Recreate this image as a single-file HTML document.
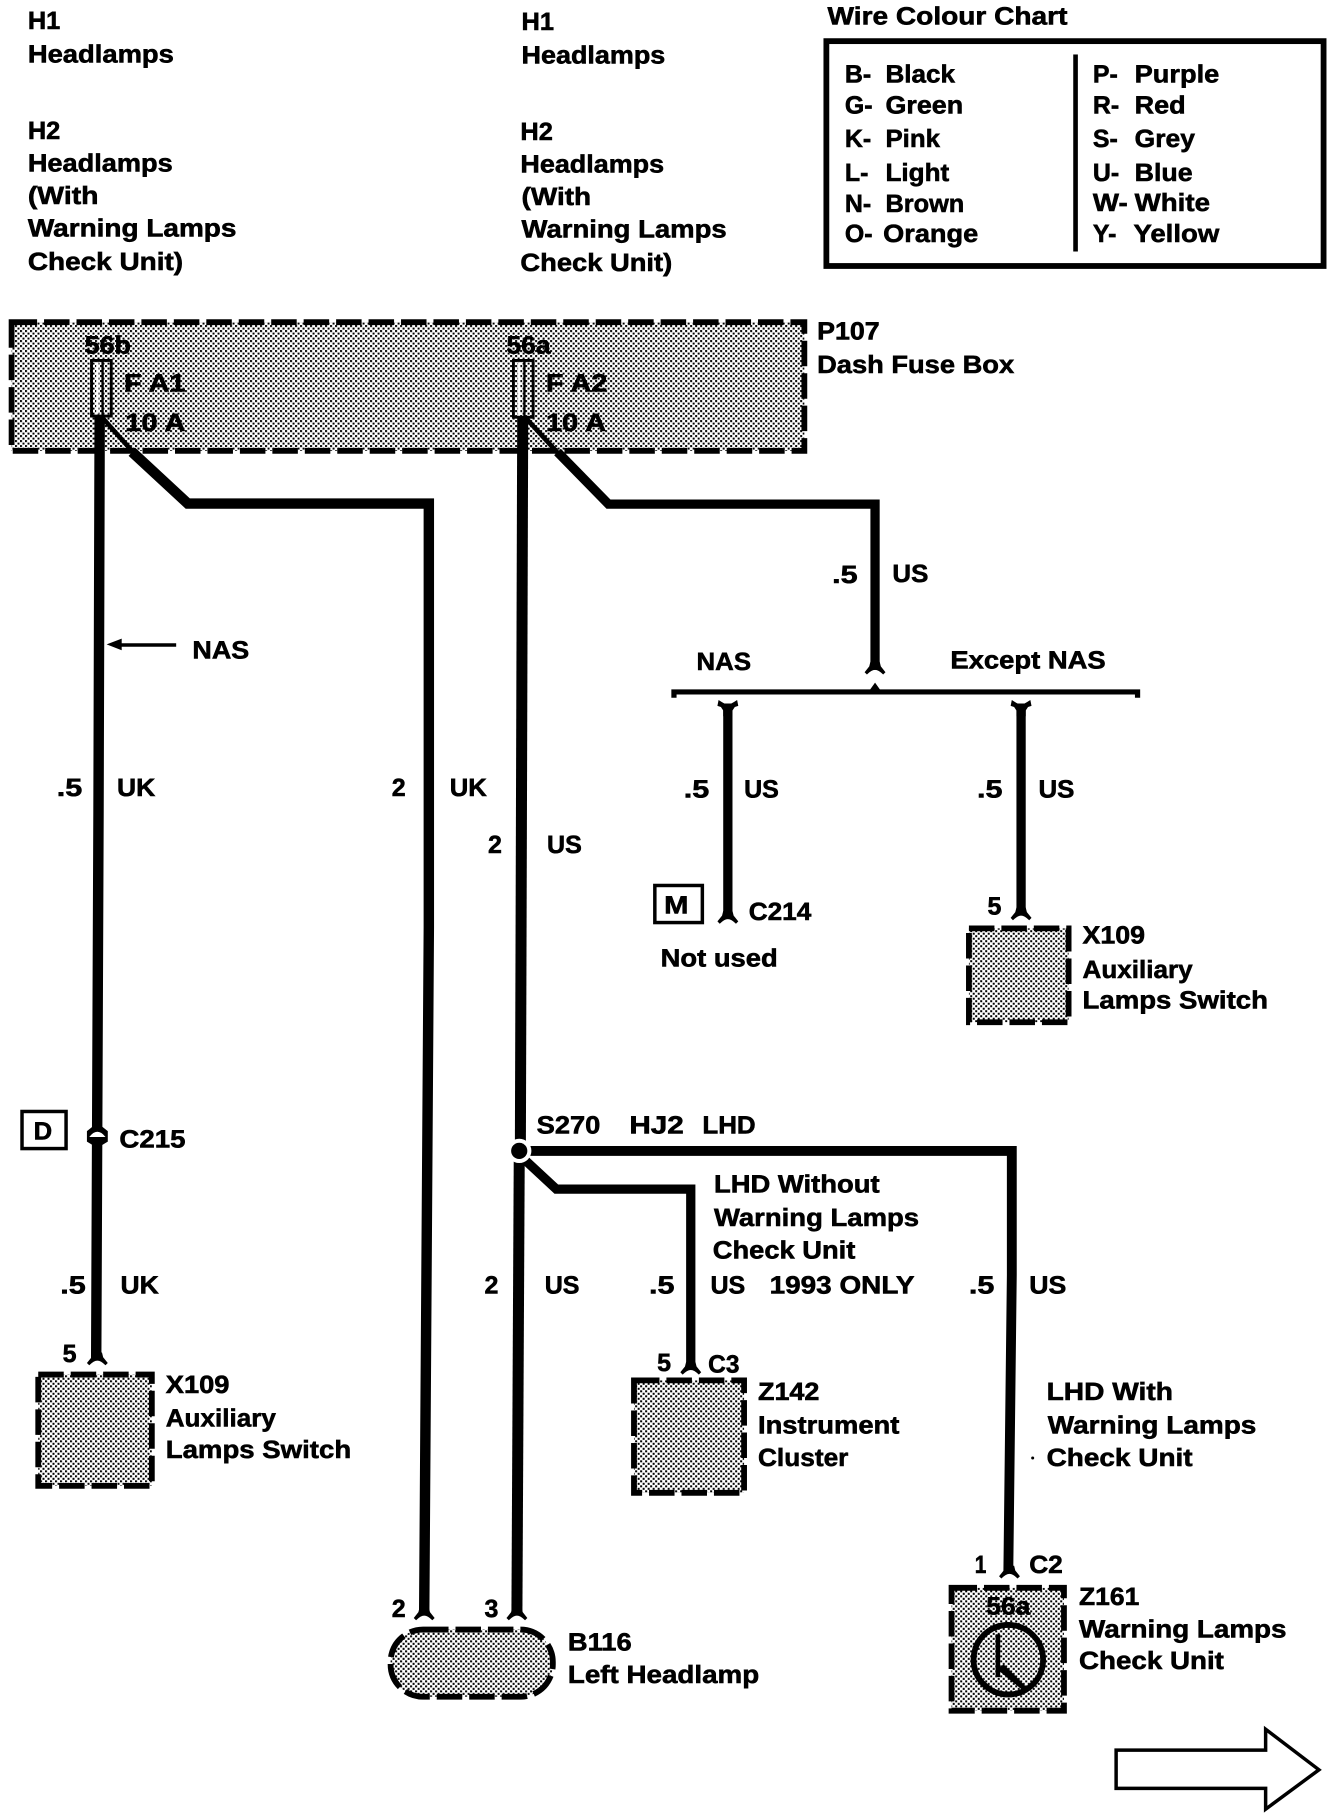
<!DOCTYPE html>
<html><head><meta charset="utf-8">
<style>
html,body{margin:0;padding:0;background:#fff}
svg{display:block}
text{font-family:"Liberation Sans",sans-serif;font-weight:bold;font-size:21.5px;fill:#000;stroke:#000;stroke-width:.5px}
.w{fill:none;stroke:#000;stroke-linecap:butt;stroke-linejoin:miter}
.d{stroke:#000;stroke-width:5;stroke-dasharray:22 6;fill:url(#p)}
</style></head><body>
<svg width="1344" height="1818" viewBox="0 0 1344 1818" xmlns="http://www.w3.org/2000/svg">
<defs>
<pattern id="p" width="5" height="5" patternUnits="userSpaceOnUse" patternTransform="scale(.863)">
<rect width="5" height="5" fill="#fff"/><rect width="2" height="2" fill="#000"/><rect x="2.500" y="2.500" width="2" height="2" fill="#000"/>
</pattern>
<path id="fk" d="M-4 -10H4L5 -6L9 -1L7 1Q3 -3 0 -3Q-3 -3 -7 1L-9 -1L-5 -6Z"/>
<path id="ft" d="M-4 10H4V5L6 2L9 1L8 -4Q5 -2 3 -1H-3Q-5 -2 -8 -4L-9 1L-6 2L-4 5Z"/>
</defs>
<rect width="1344" height="1818" fill="#fff"/>
<g transform="scale(1.159)" text-rendering="geometricPrecision">

<!-- boxes -->
<rect class="d" x="10" y="278" width="684" height="111"/>
<rect class="d" x="836" y="801" width="86" height="81"/>
<rect class="d" x="33" y="1186" width="98" height="96"/>
<rect class="d" x="547" y="1191" width="95" height="97"/>
<rect class="d" x="821" y="1370" width="97" height="106"/>
<rect class="d" x="337" y="1406" width="140" height="58" rx="28"/>

<!-- legend -->
<rect x="713" y="35.500" width="429" height="194" fill="none" stroke="#000" stroke-width="5"/>
<rect x="926" y="47" width="4" height="170"/>

<!-- fuses -->
<rect x="79" y="311" width="17" height="48" fill="none" stroke="#000" stroke-width="2.500"/>
<rect x="443" y="311" width="17" height="49" fill="none" stroke="#000" stroke-width="2.500"/>
<path d="M85 313V357H83V313ZM449 313V358H447V313Z" fill="#fff"/>
<path d="M88.500 311V359M452.500 311V360" stroke="#000" stroke-width="2"/>

<!-- wires -->
<path class="w" stroke-width="9" d="M86 360L85 700L83 1172"/>
<path class="w" stroke-width="4" d="M88 360L120 396"/>
<path class="w" stroke-width="9" d="M114 390L162 434.500H370V800L366 1392"/>
<path class="w" stroke-width="9.500" d="M451 360L449 985"/>
<path class="w" stroke-width="9.500" d="M448 1000L446 1392"/>
<path class="w" stroke-width="4" d="M453 360L487 397"/>
<path class="w" stroke-width="8" d="M481 390L525 435H755V578"/>
<path class="w" stroke-width="8" d="M628 610V790"/>
<path class="w" stroke-width="8" d="M881 610V788"/>
<path class="w" stroke-width="8.500" d="M456 993H873V1100L870 1356"/>
<path class="w" stroke-width="8" d="M452 1000L480 1026H596V1180"/>

<!-- bracket -->
<path class="w" stroke-width="4.500" d="M581.500 602V597H981.500V602"/>
<path d="M750 596L755 589L760 596Z"/>

<!-- wire forks -->
<use href="#fk" x="755" y="581"/>
<use href="#fk" x="84" y="1177"/>
<use href="#fk" x="366" y="1397"/>
<use href="#fk" x="446" y="1397"/>
<use href="#fk" x="596" y="1185"/>
<use href="#fk" x="871" y="1361"/>
<use href="#fk" x="628" y="796"/>
<use href="#fk" x="881" y="793"/>
<use href="#ft" x="628" y="608"/>
<use href="#ft" x="881" y="608"/>

<!-- C215 connector -->
<path d="M80 968H88V972L93 976V985L88 988V994H80V988L75 985V976L80 972Z"/>
<path d="M77 981Q84 972 91 981Z" fill="#fff"/>

<!-- S270 node -->
<circle cx="448" cy="993" r="10.500" fill="#fff"/>
<circle cx="448" cy="993" r="7"/>

<!-- NAS arrow -->
<path d="M92 556L105 551V555H152V558H105V561Z"/>

<!-- ref boxes -->
<rect x="19" y="959" width="38" height="32" fill="#fff" stroke="#000" stroke-width="3"/>
<rect x="565" y="764" width="41" height="32" fill="#fff" stroke="#000" stroke-width="3"/>

<!-- gauge -->
<circle cx="870" cy="1432" r="30" fill="none" stroke="#000" stroke-width="5"/>
<path class="w" stroke-width="4" d="M861 1410V1447"/>
<path d="M860 1440L866 1436L886 1456L882 1458Z"/>

<!-- big arrow -->
<path d="M963 1510H1092V1492L1138 1527L1092 1561V1543H963Z" fill="#fff" stroke="#000" stroke-width="3"/>
<circle cx="891" cy="1258" r="1.300"/>

<!-- text -->
<text x="24" y="25" textLength="28" lengthAdjust="spacingAndGlyphs">H1</text>
<text x="24" y="54" textLength="126" lengthAdjust="spacingAndGlyphs">Headlamps</text>
<text x="24" y="120" textLength="28" lengthAdjust="spacingAndGlyphs">H2</text>
<text x="24" y="148" textLength="125" lengthAdjust="spacingAndGlyphs">Headlamps</text>
<text x="24" y="176" textLength="61" lengthAdjust="spacingAndGlyphs">(With</text>
<text x="24" y="204" textLength="180" lengthAdjust="spacingAndGlyphs">Warning Lamps</text>
<text x="24" y="233" textLength="134" lengthAdjust="spacingAndGlyphs">Check Unit)</text>

<text x="450" y="26" textLength="28" lengthAdjust="spacingAndGlyphs">H1</text>
<text x="450" y="55" textLength="124" lengthAdjust="spacingAndGlyphs">Headlamps</text>
<text x="449" y="121" textLength="28" lengthAdjust="spacingAndGlyphs">H2</text>
<text x="449" y="149" textLength="124" lengthAdjust="spacingAndGlyphs">Headlamps</text>
<text x="450" y="177" textLength="60" lengthAdjust="spacingAndGlyphs">(With</text>
<text x="450" y="205" textLength="177" lengthAdjust="spacingAndGlyphs">Warning Lamps</text>
<text x="449" y="234" textLength="131" lengthAdjust="spacingAndGlyphs">Check Unit)</text>

<text x="714" y="21" textLength="207" lengthAdjust="spacingAndGlyphs">Wire Colour Chart</text>
<text x="729" y="71">B-</text><text x="764" y="71" textLength="60" lengthAdjust="spacingAndGlyphs">Black</text>
<text x="729" y="98">G-</text><text x="764" y="98" textLength="67" lengthAdjust="spacingAndGlyphs">Green</text>
<text x="729" y="127">K-</text><text x="764" y="127" textLength="47" lengthAdjust="spacingAndGlyphs">Pink</text>
<text x="729" y="156">L-</text><text x="764" y="156" textLength="55" lengthAdjust="spacingAndGlyphs">Light</text>
<text x="729" y="183">N-</text><text x="764" y="183" textLength="68" lengthAdjust="spacingAndGlyphs">Brown</text>
<text x="729" y="209">O-</text><text x="762" y="209" textLength="82" lengthAdjust="spacingAndGlyphs">Orange</text>
<text x="943" y="71">P-</text><text x="979" y="71" textLength="73" lengthAdjust="spacingAndGlyphs">Purple</text>
<text x="943" y="98">R-</text><text x="979" y="98" textLength="44" lengthAdjust="spacingAndGlyphs">Red</text>
<text x="943" y="127">S-</text><text x="979" y="127" textLength="52" lengthAdjust="spacingAndGlyphs">Grey</text>
<text x="943" y="156">U-</text><text x="979" y="156" textLength="50" lengthAdjust="spacingAndGlyphs">Blue</text>
<text x="943" y="182" textLength="30" lengthAdjust="spacingAndGlyphs">W-</text><text x="979" y="182" textLength="65" lengthAdjust="spacingAndGlyphs">White</text>
<text x="943" y="209">Y-</text><text x="978" y="209" textLength="74" lengthAdjust="spacingAndGlyphs">Yellow</text>

<text x="705" y="293" textLength="54" lengthAdjust="spacingAndGlyphs">P107</text>
<text x="705" y="322" textLength="170" lengthAdjust="spacingAndGlyphs">Dash Fuse Box</text>
<text x="73" y="305" textLength="40" lengthAdjust="spacingAndGlyphs">56b</text>
<text x="437" y="305" textLength="38" lengthAdjust="spacingAndGlyphs">56a</text>
<text x="107" y="338" textLength="53" lengthAdjust="spacingAndGlyphs">F A1</text>
<text x="108" y="372" textLength="52" lengthAdjust="spacingAndGlyphs">10 A</text>
<text x="471" y="338" textLength="53" lengthAdjust="spacingAndGlyphs">F A2</text>
<text x="471" y="372" textLength="52" lengthAdjust="spacingAndGlyphs">10 A</text>

<text x="718" y="503" textLength="22" lengthAdjust="spacingAndGlyphs">.5</text>
<text x="770" y="502" textLength="31" lengthAdjust="spacingAndGlyphs">US</text>
<text x="166" y="568" textLength="49" lengthAdjust="spacingAndGlyphs">NAS</text>
<text x="601" y="578" textLength="47" lengthAdjust="spacingAndGlyphs">NAS</text>
<text x="820" y="577" textLength="134" lengthAdjust="spacingAndGlyphs">Except NAS</text>

<text x="49" y="687" textLength="22" lengthAdjust="spacingAndGlyphs">.5</text>
<text x="101" y="687" textLength="33" lengthAdjust="spacingAndGlyphs">UK</text>
<text x="338" y="687" textLength="12" lengthAdjust="spacingAndGlyphs">2</text>
<text x="388" y="687" textLength="32" lengthAdjust="spacingAndGlyphs">UK</text>
<text x="421" y="736" textLength="12" lengthAdjust="spacingAndGlyphs">2</text>
<text x="472" y="736" textLength="30" lengthAdjust="spacingAndGlyphs">US</text>
<text x="590" y="688" textLength="22" lengthAdjust="spacingAndGlyphs">.5</text>
<text x="642" y="688" textLength="30" lengthAdjust="spacingAndGlyphs">US</text>
<text x="843" y="688" textLength="22" lengthAdjust="spacingAndGlyphs">.5</text>
<text x="896" y="688" textLength="31" lengthAdjust="spacingAndGlyphs">US</text>

<text x="573" y="788" textLength="21" lengthAdjust="spacingAndGlyphs">M</text>
<text x="646" y="794" textLength="54" lengthAdjust="spacingAndGlyphs">C214</text>
<text x="570" y="834" textLength="101" lengthAdjust="spacingAndGlyphs">Not used</text>
<text x="852" y="789" textLength="12" lengthAdjust="spacingAndGlyphs">5</text>
<text x="934" y="814" textLength="54" lengthAdjust="spacingAndGlyphs">X109</text>
<text x="934" y="844" textLength="95" lengthAdjust="spacingAndGlyphs">Auxiliary</text>
<text x="934" y="870" textLength="160" lengthAdjust="spacingAndGlyphs">Lamps Switch</text>

<text x="29" y="983" textLength="16" lengthAdjust="spacingAndGlyphs">D</text>
<text x="103" y="990" textLength="57" lengthAdjust="spacingAndGlyphs">C215</text>
<text x="463" y="978" textLength="55" lengthAdjust="spacingAndGlyphs">S270</text>
<text x="543" y="978" textLength="47" lengthAdjust="spacingAndGlyphs">HJ2</text>
<text x="606" y="978" textLength="46" lengthAdjust="spacingAndGlyphs">LHD</text>
<text x="616" y="1029" textLength="143" lengthAdjust="spacingAndGlyphs">LHD Without</text>
<text x="616" y="1058" textLength="177" lengthAdjust="spacingAndGlyphs">Warning Lamps</text>
<text x="615" y="1086" textLength="123" lengthAdjust="spacingAndGlyphs">Check Unit</text>

<text x="52" y="1116" textLength="22" lengthAdjust="spacingAndGlyphs">.5</text>
<text x="104" y="1116" textLength="33" lengthAdjust="spacingAndGlyphs">UK</text>
<text x="418" y="1116" textLength="12" lengthAdjust="spacingAndGlyphs">2</text>
<text x="470" y="1116" textLength="30" lengthAdjust="spacingAndGlyphs">US</text>
<text x="560" y="1116" textLength="22" lengthAdjust="spacingAndGlyphs">.5</text>
<text x="613" y="1116" textLength="30" lengthAdjust="spacingAndGlyphs">US</text>
<text x="664" y="1116" textLength="125" lengthAdjust="spacingAndGlyphs">1993 ONLY</text>
<text x="836" y="1116" textLength="22" lengthAdjust="spacingAndGlyphs">.5</text>
<text x="888" y="1116" textLength="32" lengthAdjust="spacingAndGlyphs">US</text>

<text x="54" y="1175" textLength="12" lengthAdjust="spacingAndGlyphs">5</text>
<text x="143" y="1202" textLength="55" lengthAdjust="spacingAndGlyphs">X109</text>
<text x="143" y="1231" textLength="95" lengthAdjust="spacingAndGlyphs">Auxiliary</text>
<text x="143" y="1258" textLength="160" lengthAdjust="spacingAndGlyphs">Lamps Switch</text>

<text x="567" y="1183" textLength="12" lengthAdjust="spacingAndGlyphs">5</text>
<text x="611" y="1184" textLength="27" lengthAdjust="spacingAndGlyphs">C3</text>
<text x="654" y="1208" textLength="53" lengthAdjust="spacingAndGlyphs">Z142</text>
<text x="654" y="1237" textLength="122" lengthAdjust="spacingAndGlyphs">Instrument</text>
<text x="654" y="1265" textLength="78" lengthAdjust="spacingAndGlyphs">Cluster</text>

<text x="903" y="1208" textLength="109" lengthAdjust="spacingAndGlyphs">LHD With</text>
<text x="904" y="1237" textLength="180" lengthAdjust="spacingAndGlyphs">Warning Lamps</text>
<text x="903" y="1265" textLength="126" lengthAdjust="spacingAndGlyphs">Check Unit</text>

<text x="841" y="1357" textLength="10" lengthAdjust="spacingAndGlyphs">1</text>
<text x="888" y="1357" textLength="29" lengthAdjust="spacingAndGlyphs">C2</text>
<text x="851" y="1393" textLength="38" lengthAdjust="spacingAndGlyphs">56a</text>
<text x="931" y="1385" textLength="52" lengthAdjust="spacingAndGlyphs">Z161</text>
<text x="931" y="1413" textLength="179" lengthAdjust="spacingAndGlyphs">Warning Lamps</text>
<text x="931" y="1440" textLength="125" lengthAdjust="spacingAndGlyphs">Check Unit</text>

<text x="338" y="1395" textLength="12" lengthAdjust="spacingAndGlyphs">2</text>
<text x="418" y="1395" textLength="12" lengthAdjust="spacingAndGlyphs">3</text>
<text x="490" y="1424" textLength="55" lengthAdjust="spacingAndGlyphs">B116</text>
<text x="490" y="1452" textLength="165" lengthAdjust="spacingAndGlyphs">Left Headlamp</text>
</g>
</svg>
</body></html>
